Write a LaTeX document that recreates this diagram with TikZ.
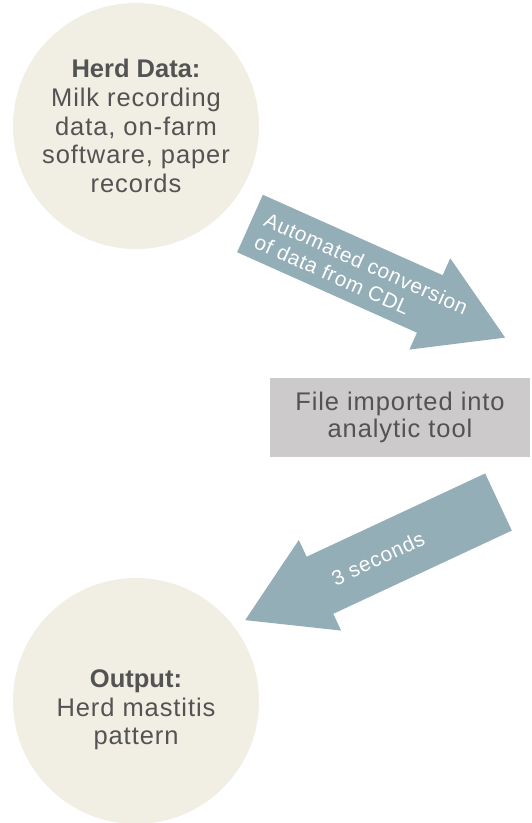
\documentclass[tikz,border=0pt]{standalone}
\usepackage{fontspec}
\setmainfont{Liberation Sans}[UprightFeatures={LetterSpace=3.6}, BoldFeatures={LetterSpace=0}]
\definecolor{circfill}{HTML}{F1EEE3}
\definecolor{txtgray}{HTML}{535353}
\definecolor{arrfill}{HTML}{94AEB8}
\definecolor{boxfill}{HTML}{CCCACA}
\tikzset{
  bubble/.style={circle, fill=circfill, minimum size=246pt, inner sep=0pt, text=txtgray, align=center,
    font=\fontsize{25.5}{28.7}\selectfont},
  bubbletext/.style={inner sep=0pt, text=txtgray, align=center, font=\fontsize{25.5}{28.5}\selectfont},
  graybox/.style={rectangle, fill=boxfill, minimum width=260pt, minimum height=79pt, inner sep=0pt,
    text=txtgray, align=center, font=\fontsize{25.5}{27}\selectfont},
  blockarrow/.style={fill=arrfill, draw=none},
  arrowtext/.style={inner sep=0pt, text=white, font=\fontsize{20.8}{24}\selectfont}
}
\begin{document}
\begin{tikzpicture}[x=1pt,y=1pt]
\useasboundingbox (0,0) rectangle (532,-823);
% nodes
\node[bubble] (herd) at (136,-126) {\textbf{Herd Data:}\\Milk recording\\data, on-farm\\software, paper\\records};
\node[graybox] (tool) at (400,-417.5) {File imported into\\analytic tool};
\node[bubble] (output) at (136,-701) {};
\node[bubbletext] (outtext) at (136,-710) {\textbf{Output:}\\Herd mastitis\\pattern};
% block arrow 1
\begin{scope}[shift={(250,-223.5)}, rotate=-24.1]
  \coordinate (a1tail) at (0,0);
  \coordinate (a1tip) at (279.5,0);
  \fill[blockarrow] (0,31.5) -- (197,31.5) -- (197,50) -- (a1tip) -- (197,-50) -- (197,-31.5) -- (0,-31.5) -- cycle;
  \node[arrowtext, anchor=west, align=left, transform shape] (a1label) at (12,-1) {Automated conversion\\of data from CDL};
\end{scope}
% block arrow 2
\begin{scope}[shift={(498.5,-502)}, rotate=205]
  \coordinate (a2tail) at (0,0);
  \coordinate (a2tip) at (279.5,0);
  \fill[blockarrow] (0,31.5) -- (197,31.5) -- (197,50) -- (a2tip) -- (197,-50) -- (197,-31.5) -- (0,-31.5) -- cycle;
  \node[arrowtext, rotate=180, transform shape] (a2label) at (133,0) {3 seconds};
\end{scope}
\end{tikzpicture}
\end{document}
